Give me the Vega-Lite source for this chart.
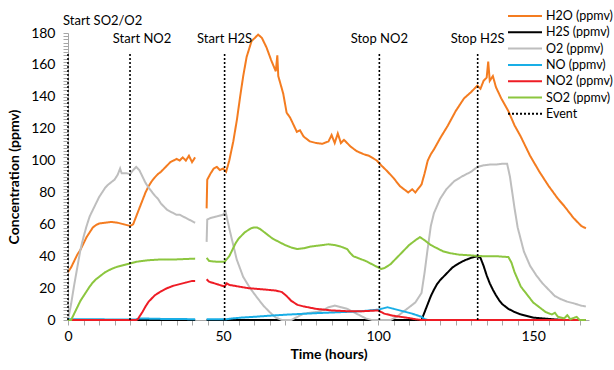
{
  "$schema": "https://vega.github.io/schema/vega-lite/v6.json",
  "width": 521,
  "height": 287,
  "autosize": {"type": "none"},
  "padding": {"left": 68, "top": 33, "right": 25, "bottom": 50},
  "config": {
    "font": "Lato",
    "view": {"stroke": null},
    "axis": {"grid": false, "domainColor": "#A6A6A6", "tickColor": "#A6A6A6", "labelColor": "#000000", "titleColor": "#000000", "labelFontSize": 14, "titleFontSize": 14, "titleFontWeight": "bold"}
  },
  "datasets": {
    "lines": [
      {"s":"H2O (ppmv)","g":"A","t":0,"v":30},{"s":"H2O (ppmv)","g":"A","t":1,"v":33},{"s":"H2O (ppmv)","g":"A","t":2,"v":37},{"s":"H2O (ppmv)","g":"A","t":3,"v":41},{"s":"H2O (ppmv)","g":"A","t":4,"v":44},{"s":"H2O (ppmv)","g":"A","t":5,"v":48},{"s":"H2O (ppmv)","g":"A","t":6,"v":52},{"s":"H2O (ppmv)","g":"A","t":7,"v":55},{"s":"H2O (ppmv)","g":"A","t":8,"v":58},{"s":"H2O (ppmv)","g":"A","t":9,"v":59.5},{"s":"H2O (ppmv)","g":"A","t":10,"v":60.5},{"s":"H2O (ppmv)","g":"A","t":12,"v":61},{"s":"H2O (ppmv)","g":"A","t":14,"v":61.5},{"s":"H2O (ppmv)","g":"A","t":16,"v":61},{"s":"H2O (ppmv)","g":"A","t":18,"v":60},{"s":"H2O (ppmv)","g":"A","t":20,"v":59},{"s":"H2O (ppmv)","g":"A","t":21,"v":60},{"s":"H2O (ppmv)","g":"A","t":22,"v":65},{"s":"H2O (ppmv)","g":"A","t":23,"v":70},{"s":"H2O (ppmv)","g":"A","t":24,"v":75},{"s":"H2O (ppmv)","g":"A","t":25,"v":80},{"s":"H2O (ppmv)","g":"A","t":26,"v":84},{"s":"H2O (ppmv)","g":"A","t":27,"v":87},{"s":"H2O (ppmv)","g":"A","t":28,"v":89.5},{"s":"H2O (ppmv)","g":"A","t":29,"v":91.5},{"s":"H2O (ppmv)","g":"A","t":30,"v":93},{"s":"H2O (ppmv)","g":"A","t":31,"v":95},{"s":"H2O (ppmv)","g":"A","t":32,"v":97},{"s":"H2O (ppmv)","g":"A","t":33,"v":99},{"s":"H2O (ppmv)","g":"A","t":34,"v":100},{"s":"H2O (ppmv)","g":"A","t":35,"v":101},{"s":"H2O (ppmv)","g":"A","t":36,"v":100},{"s":"H2O (ppmv)","g":"A","t":37,"v":102},{"s":"H2O (ppmv)","g":"A","t":38,"v":100},{"s":"H2O (ppmv)","g":"A","t":39,"v":103},{"s":"H2O (ppmv)","g":"A","t":40,"v":99},{"s":"H2O (ppmv)","g":"A","t":41,"v":102},
      {"s":"H2O (ppmv)","g":"B","t":44.7,"v":70},{"s":"H2O (ppmv)","g":"B","t":44.9,"v":88},{"s":"H2O (ppmv)","g":"B","t":46,"v":92},{"s":"H2O (ppmv)","g":"B","t":47,"v":95},{"s":"H2O (ppmv)","g":"B","t":48,"v":96},{"s":"H2O (ppmv)","g":"B","t":49,"v":94},{"s":"H2O (ppmv)","g":"B","t":50,"v":95},{"s":"H2O (ppmv)","g":"B","t":51,"v":93},{"s":"H2O (ppmv)","g":"B","t":52,"v":100},{"s":"H2O (ppmv)","g":"B","t":53.3,"v":112},{"s":"H2O (ppmv)","g":"B","t":54.5,"v":126},{"s":"H2O (ppmv)","g":"B","t":55.5,"v":140},{"s":"H2O (ppmv)","g":"B","t":56.5,"v":153},{"s":"H2O (ppmv)","g":"B","t":57.6,"v":165},{"s":"H2O (ppmv)","g":"B","t":59.2,"v":175},{"s":"H2O (ppmv)","g":"B","t":60.3,"v":177},{"s":"H2O (ppmv)","g":"B","t":61.3,"v":179},{"s":"H2O (ppmv)","g":"B","t":62.5,"v":177},{"s":"H2O (ppmv)","g":"B","t":64,"v":171},{"s":"H2O (ppmv)","g":"B","t":65.5,"v":163},{"s":"H2O (ppmv)","g":"B","t":67,"v":156},{"s":"H2O (ppmv)","g":"B","t":67.5,"v":166},{"s":"H2O (ppmv)","g":"B","t":67.8,"v":153},{"s":"H2O (ppmv)","g":"B","t":69.4,"v":142},{"s":"H2O (ppmv)","g":"B","t":70.5,"v":130},{"s":"H2O (ppmv)","g":"B","t":71.6,"v":127},{"s":"H2O (ppmv)","g":"B","t":73.8,"v":118},{"s":"H2O (ppmv)","g":"B","t":74.8,"v":119},{"s":"H2O (ppmv)","g":"B","t":76,"v":115},{"s":"H2O (ppmv)","g":"B","t":78,"v":112},{"s":"H2O (ppmv)","g":"B","t":80,"v":111},{"s":"H2O (ppmv)","g":"B","t":82,"v":110.5},{"s":"H2O (ppmv)","g":"B","t":84,"v":112},{"s":"H2O (ppmv)","g":"B","t":85,"v":116},{"s":"H2O (ppmv)","g":"B","t":86,"v":111},{"s":"H2O (ppmv)","g":"B","t":87,"v":117},{"s":"H2O (ppmv)","g":"B","t":88,"v":111},{"s":"H2O (ppmv)","g":"B","t":89,"v":113},{"s":"H2O (ppmv)","g":"B","t":91,"v":109},{"s":"H2O (ppmv)","g":"B","t":93,"v":106},{"s":"H2O (ppmv)","g":"B","t":95.3,"v":104},{"s":"H2O (ppmv)","g":"B","t":97,"v":103},{"s":"H2O (ppmv)","g":"B","t":99.6,"v":100},{"s":"H2O (ppmv)","g":"B","t":101,"v":97},{"s":"H2O (ppmv)","g":"B","t":102.8,"v":93.6},{"s":"H2O (ppmv)","g":"B","t":105,"v":89},{"s":"H2O (ppmv)","g":"B","t":107,"v":84},{"s":"H2O (ppmv)","g":"B","t":109.7,"v":80},{"s":"H2O (ppmv)","g":"B","t":111,"v":82},{"s":"H2O (ppmv)","g":"B","t":112,"v":80},{"s":"H2O (ppmv)","g":"B","t":114,"v":85},{"s":"H2O (ppmv)","g":"B","t":115,"v":92},{"s":"H2O (ppmv)","g":"B","t":116,"v":100},{"s":"H2O (ppmv)","g":"B","t":117,"v":104},{"s":"H2O (ppmv)","g":"B","t":118,"v":107},{"s":"H2O (ppmv)","g":"B","t":120,"v":114},{"s":"H2O (ppmv)","g":"B","t":122.5,"v":122},{"s":"H2O (ppmv)","g":"B","t":125,"v":131},{"s":"H2O (ppmv)","g":"B","t":127.7,"v":139},{"s":"H2O (ppmv)","g":"B","t":130,"v":143},{"s":"H2O (ppmv)","g":"B","t":132,"v":147},{"s":"H2O (ppmv)","g":"B","t":133,"v":145},{"s":"H2O (ppmv)","g":"B","t":134,"v":150},{"s":"H2O (ppmv)","g":"B","t":135,"v":152},{"s":"H2O (ppmv)","g":"B","t":135.5,"v":162},{"s":"H2O (ppmv)","g":"B","t":136,"v":150},{"s":"H2O (ppmv)","g":"B","t":137,"v":153},{"s":"H2O (ppmv)","g":"B","t":138,"v":146},{"s":"H2O (ppmv)","g":"B","t":139.7,"v":139},{"s":"H2O (ppmv)","g":"B","t":142,"v":131},{"s":"H2O (ppmv)","g":"B","t":144,"v":122},{"s":"H2O (ppmv)","g":"B","t":146,"v":115},{"s":"H2O (ppmv)","g":"B","t":149,"v":103},{"s":"H2O (ppmv)","g":"B","t":152,"v":93},{"s":"H2O (ppmv)","g":"B","t":155,"v":84},{"s":"H2O (ppmv)","g":"B","t":158,"v":76},{"s":"H2O (ppmv)","g":"B","t":160,"v":71.5},{"s":"H2O (ppmv)","g":"B","t":163,"v":64},{"s":"H2O (ppmv)","g":"B","t":165.5,"v":59},{"s":"H2O (ppmv)","g":"B","t":167,"v":57.5},
      {"s":"H2S (ppmv)","g":"A","t":0,"v":0},{"s":"H2S (ppmv)","g":"A","t":41,"v":0},
      {"s":"H2S (ppmv)","g":"B","t":44.7,"v":0},{"s":"H2S (ppmv)","g":"B","t":114,"v":0},{"s":"H2S (ppmv)","g":"B","t":115,"v":5},{"s":"H2S (ppmv)","g":"B","t":116,"v":10},{"s":"H2S (ppmv)","g":"B","t":117,"v":15},{"s":"H2S (ppmv)","g":"B","t":118,"v":19},{"s":"H2S (ppmv)","g":"B","t":119,"v":22.5},{"s":"H2S (ppmv)","g":"B","t":120,"v":25},{"s":"H2S (ppmv)","g":"B","t":122,"v":29},{"s":"H2S (ppmv)","g":"B","t":124,"v":33},{"s":"H2S (ppmv)","g":"B","t":126,"v":35.5},{"s":"H2S (ppmv)","g":"B","t":128,"v":37.5},{"s":"H2S (ppmv)","g":"B","t":130,"v":39},{"s":"H2S (ppmv)","g":"B","t":132,"v":40},{"s":"H2S (ppmv)","g":"B","t":133,"v":39},{"s":"H2S (ppmv)","g":"B","t":134,"v":34},{"s":"H2S (ppmv)","g":"B","t":135,"v":28},{"s":"H2S (ppmv)","g":"B","t":136,"v":23},{"s":"H2S (ppmv)","g":"B","t":137,"v":19},{"s":"H2S (ppmv)","g":"B","t":138,"v":15.5},{"s":"H2S (ppmv)","g":"B","t":139,"v":12.5},{"s":"H2S (ppmv)","g":"B","t":140,"v":10},{"s":"H2S (ppmv)","g":"B","t":142,"v":7},{"s":"H2S (ppmv)","g":"B","t":144,"v":5},{"s":"H2S (ppmv)","g":"B","t":146,"v":3.5},{"s":"H2S (ppmv)","g":"B","t":148,"v":2.5},{"s":"H2S (ppmv)","g":"B","t":150,"v":1.5},{"s":"H2S (ppmv)","g":"B","t":153,"v":1},{"s":"H2S (ppmv)","g":"B","t":156,"v":0.5},{"s":"H2S (ppmv)","g":"B","t":160,"v":0},{"s":"H2S (ppmv)","g":"B","t":163,"v":0},
      {"s":"O2 (ppmv)","g":"A","t":0,"v":0},{"s":"O2 (ppmv)","g":"A","t":1,"v":10},{"s":"O2 (ppmv)","g":"A","t":2,"v":22},{"s":"O2 (ppmv)","g":"A","t":3,"v":33},{"s":"O2 (ppmv)","g":"A","t":4,"v":44},{"s":"O2 (ppmv)","g":"A","t":5,"v":52},{"s":"O2 (ppmv)","g":"A","t":6,"v":59},{"s":"O2 (ppmv)","g":"A","t":7,"v":65},{"s":"O2 (ppmv)","g":"A","t":8,"v":69},{"s":"O2 (ppmv)","g":"A","t":9,"v":73},{"s":"O2 (ppmv)","g":"A","t":10,"v":77},{"s":"O2 (ppmv)","g":"A","t":11,"v":80},{"s":"O2 (ppmv)","g":"A","t":12,"v":83},{"s":"O2 (ppmv)","g":"A","t":13,"v":85},{"s":"O2 (ppmv)","g":"A","t":14,"v":86.5},{"s":"O2 (ppmv)","g":"A","t":15,"v":88},{"s":"O2 (ppmv)","g":"A","t":16,"v":91},{"s":"O2 (ppmv)","g":"A","t":16.8,"v":95},{"s":"O2 (ppmv)","g":"A","t":17.3,"v":92},{"s":"O2 (ppmv)","g":"A","t":18,"v":92},{"s":"O2 (ppmv)","g":"A","t":19,"v":92},{"s":"O2 (ppmv)","g":"A","t":20,"v":91.5},{"s":"O2 (ppmv)","g":"A","t":21,"v":94},{"s":"O2 (ppmv)","g":"A","t":22,"v":96},{"s":"O2 (ppmv)","g":"A","t":23,"v":94},{"s":"O2 (ppmv)","g":"A","t":24,"v":90},{"s":"O2 (ppmv)","g":"A","t":25,"v":86},{"s":"O2 (ppmv)","g":"A","t":26,"v":83},{"s":"O2 (ppmv)","g":"A","t":27,"v":80.5},{"s":"O2 (ppmv)","g":"A","t":28,"v":78},{"s":"O2 (ppmv)","g":"A","t":29,"v":76},{"s":"O2 (ppmv)","g":"A","t":30,"v":73},{"s":"O2 (ppmv)","g":"A","t":31,"v":71},{"s":"O2 (ppmv)","g":"A","t":32,"v":69},{"s":"O2 (ppmv)","g":"A","t":33,"v":68},{"s":"O2 (ppmv)","g":"A","t":34,"v":67},{"s":"O2 (ppmv)","g":"A","t":35,"v":66},{"s":"O2 (ppmv)","g":"A","t":36,"v":66},{"s":"O2 (ppmv)","g":"A","t":37,"v":65},{"s":"O2 (ppmv)","g":"A","t":38,"v":64},{"s":"O2 (ppmv)","g":"A","t":39,"v":63},{"s":"O2 (ppmv)","g":"A","t":40,"v":62},{"s":"O2 (ppmv)","g":"A","t":41,"v":61},
      {"s":"O2 (ppmv)","g":"B","t":44.7,"v":49},{"s":"O2 (ppmv)","g":"B","t":44.9,"v":63},{"s":"O2 (ppmv)","g":"B","t":46,"v":64},{"s":"O2 (ppmv)","g":"B","t":47,"v":64.5},{"s":"O2 (ppmv)","g":"B","t":48,"v":65},{"s":"O2 (ppmv)","g":"B","t":49,"v":65.5},{"s":"O2 (ppmv)","g":"B","t":50,"v":66},{"s":"O2 (ppmv)","g":"B","t":50.8,"v":68},{"s":"O2 (ppmv)","g":"B","t":52.3,"v":55},{"s":"O2 (ppmv)","g":"B","t":54.4,"v":38},{"s":"O2 (ppmv)","g":"B","t":56.5,"v":27},{"s":"O2 (ppmv)","g":"B","t":58.7,"v":20},{"s":"O2 (ppmv)","g":"B","t":61,"v":14},{"s":"O2 (ppmv)","g":"B","t":63,"v":9},{"s":"O2 (ppmv)","g":"B","t":65,"v":5},{"s":"O2 (ppmv)","g":"B","t":67,"v":1.5},{"s":"O2 (ppmv)","g":"B","t":69,"v":0},{"s":"O2 (ppmv)","g":"B","t":72,"v":0},{"s":"O2 (ppmv)","g":"B","t":74,"v":2},{"s":"O2 (ppmv)","g":"B","t":76,"v":4},{"s":"O2 (ppmv)","g":"B","t":78,"v":4.5},{"s":"O2 (ppmv)","g":"B","t":80,"v":5},{"s":"O2 (ppmv)","g":"B","t":82,"v":6},{"s":"O2 (ppmv)","g":"B","t":84,"v":8},{"s":"O2 (ppmv)","g":"B","t":86,"v":9},{"s":"O2 (ppmv)","g":"B","t":88,"v":8},{"s":"O2 (ppmv)","g":"B","t":90,"v":7},{"s":"O2 (ppmv)","g":"B","t":92,"v":5},{"s":"O2 (ppmv)","g":"B","t":94,"v":3},{"s":"O2 (ppmv)","g":"B","t":96,"v":1},{"s":"O2 (ppmv)","g":"B","t":98,"v":0},{"s":"O2 (ppmv)","g":"B","t":104,"v":0},{"s":"O2 (ppmv)","g":"B","t":106,"v":2},{"s":"O2 (ppmv)","g":"B","t":108,"v":5},{"s":"O2 (ppmv)","g":"B","t":110,"v":8},{"s":"O2 (ppmv)","g":"B","t":112,"v":11},{"s":"O2 (ppmv)","g":"B","t":113,"v":14},{"s":"O2 (ppmv)","g":"B","t":114,"v":17},{"s":"O2 (ppmv)","g":"B","t":115,"v":30},{"s":"O2 (ppmv)","g":"B","t":116,"v":45},{"s":"O2 (ppmv)","g":"B","t":117,"v":59},{"s":"O2 (ppmv)","g":"B","t":118,"v":67},{"s":"O2 (ppmv)","g":"B","t":120,"v":76},{"s":"O2 (ppmv)","g":"B","t":122,"v":82},{"s":"O2 (ppmv)","g":"B","t":124.5,"v":87},{"s":"O2 (ppmv)","g":"B","t":127,"v":90},{"s":"O2 (ppmv)","g":"B","t":130,"v":93},{"s":"O2 (ppmv)","g":"B","t":132,"v":96},{"s":"O2 (ppmv)","g":"B","t":134,"v":97},{"s":"O2 (ppmv)","g":"B","t":136,"v":97.5},{"s":"O2 (ppmv)","g":"B","t":138,"v":97.5},{"s":"O2 (ppmv)","g":"B","t":140,"v":98},{"s":"O2 (ppmv)","g":"B","t":141.6,"v":98},{"s":"O2 (ppmv)","g":"B","t":142.5,"v":90},{"s":"O2 (ppmv)","g":"B","t":144,"v":70},{"s":"O2 (ppmv)","g":"B","t":145,"v":58},{"s":"O2 (ppmv)","g":"B","t":147,"v":43},{"s":"O2 (ppmv)","g":"B","t":149,"v":34},{"s":"O2 (ppmv)","g":"B","t":151,"v":28},{"s":"O2 (ppmv)","g":"B","t":153,"v":23},{"s":"O2 (ppmv)","g":"B","t":155,"v":19},{"s":"O2 (ppmv)","g":"B","t":157,"v":15},{"s":"O2 (ppmv)","g":"B","t":159,"v":13},{"s":"O2 (ppmv)","g":"B","t":161,"v":11.5},{"s":"O2 (ppmv)","g":"B","t":163,"v":10.5},{"s":"O2 (ppmv)","g":"B","t":165.5,"v":9},{"s":"O2 (ppmv)","g":"B","t":167,"v":8.5},
      {"s":"NO (ppmv)","g":"A","t":0,"v":0.5},{"s":"NO (ppmv)","g":"A","t":22,"v":0.3},{"s":"NO (ppmv)","g":"A","t":23,"v":1},{"s":"NO (ppmv)","g":"A","t":30,"v":0.7},{"s":"NO (ppmv)","g":"A","t":41,"v":0.5},
      {"s":"NO (ppmv)","g":"B","t":44.7,"v":0.5},{"s":"NO (ppmv)","g":"B","t":51,"v":0.5},{"s":"NO (ppmv)","g":"B","t":53,"v":1},{"s":"NO (ppmv)","g":"B","t":56,"v":1.5},{"s":"NO (ppmv)","g":"B","t":60,"v":2},{"s":"NO (ppmv)","g":"B","t":65,"v":2.7},{"s":"NO (ppmv)","g":"B","t":70,"v":3.3},{"s":"NO (ppmv)","g":"B","t":75,"v":3.8},{"s":"NO (ppmv)","g":"B","t":80,"v":4.3},{"s":"NO (ppmv)","g":"B","t":85,"v":4.7},{"s":"NO (ppmv)","g":"B","t":90,"v":5.1},{"s":"NO (ppmv)","g":"B","t":95,"v":5.6},{"s":"NO (ppmv)","g":"B","t":100,"v":6.5},{"s":"NO (ppmv)","g":"B","t":101,"v":7},{"s":"NO (ppmv)","g":"B","t":103,"v":8},{"s":"NO (ppmv)","g":"B","t":105,"v":7},{"s":"NO (ppmv)","g":"B","t":108,"v":5.5},{"s":"NO (ppmv)","g":"B","t":111,"v":4},{"s":"NO (ppmv)","g":"B","t":114,"v":2},{"s":"NO (ppmv)","g":"B","t":115,"v":0.5},{"s":"NO (ppmv)","g":"B","t":116,"v":0},{"s":"NO (ppmv)","g":"B","t":167,"v":0},
      {"s":"NO2 (ppmv)","g":"A","t":0,"v":0},{"s":"NO2 (ppmv)","g":"A","t":22,"v":0},{"s":"NO2 (ppmv)","g":"A","t":22.5,"v":0.5},{"s":"NO2 (ppmv)","g":"A","t":23,"v":2},{"s":"NO2 (ppmv)","g":"A","t":24,"v":5},{"s":"NO2 (ppmv)","g":"A","t":25,"v":8.5},{"s":"NO2 (ppmv)","g":"A","t":26,"v":11.5},{"s":"NO2 (ppmv)","g":"A","t":27,"v":13.5},{"s":"NO2 (ppmv)","g":"A","t":28,"v":15.5},{"s":"NO2 (ppmv)","g":"A","t":30,"v":18},{"s":"NO2 (ppmv)","g":"A","t":32,"v":20},{"s":"NO2 (ppmv)","g":"A","t":34,"v":21.5},{"s":"NO2 (ppmv)","g":"A","t":36,"v":22.5},{"s":"NO2 (ppmv)","g":"A","t":38,"v":23.5},{"s":"NO2 (ppmv)","g":"A","t":40,"v":24.5},{"s":"NO2 (ppmv)","g":"A","t":41,"v":24.5},
      {"s":"NO2 (ppmv)","g":"B","t":44.7,"v":25.5},{"s":"NO2 (ppmv)","g":"B","t":45.5,"v":24},{"s":"NO2 (ppmv)","g":"B","t":48,"v":22.5},{"s":"NO2 (ppmv)","g":"B","t":50.5,"v":21},{"s":"NO2 (ppmv)","g":"B","t":51.2,"v":23},{"s":"NO2 (ppmv)","g":"B","t":52,"v":22},{"s":"NO2 (ppmv)","g":"B","t":55,"v":21},{"s":"NO2 (ppmv)","g":"B","t":58,"v":20},{"s":"NO2 (ppmv)","g":"B","t":61,"v":19.5},{"s":"NO2 (ppmv)","g":"B","t":64,"v":19},{"s":"NO2 (ppmv)","g":"B","t":67,"v":18.5},{"s":"NO2 (ppmv)","g":"B","t":69,"v":17.5},{"s":"NO2 (ppmv)","g":"B","t":70.5,"v":15},{"s":"NO2 (ppmv)","g":"B","t":72,"v":12},{"s":"NO2 (ppmv)","g":"B","t":74,"v":9.5},{"s":"NO2 (ppmv)","g":"B","t":76,"v":8.5},{"s":"NO2 (ppmv)","g":"B","t":80,"v":7},{"s":"NO2 (ppmv)","g":"B","t":85,"v":6},{"s":"NO2 (ppmv)","g":"B","t":90,"v":5.5},{"s":"NO2 (ppmv)","g":"B","t":95,"v":5.5},{"s":"NO2 (ppmv)","g":"B","t":100,"v":6},{"s":"NO2 (ppmv)","g":"B","t":101,"v":5},{"s":"NO2 (ppmv)","g":"B","t":102,"v":4},{"s":"NO2 (ppmv)","g":"B","t":104,"v":3},{"s":"NO2 (ppmv)","g":"B","t":106,"v":2.3},{"s":"NO2 (ppmv)","g":"B","t":108,"v":1.8},{"s":"NO2 (ppmv)","g":"B","t":110,"v":1.2},{"s":"NO2 (ppmv)","g":"B","t":112,"v":0.5},{"s":"NO2 (ppmv)","g":"B","t":114,"v":0},{"s":"NO2 (ppmv)","g":"B","t":167,"v":0},
      {"s":"SO2 (ppmv)","g":"A","t":0,"v":0},{"s":"SO2 (ppmv)","g":"A","t":1,"v":0},{"s":"SO2 (ppmv)","g":"A","t":2,"v":4},{"s":"SO2 (ppmv)","g":"A","t":3,"v":8},{"s":"SO2 (ppmv)","g":"A","t":4,"v":12},{"s":"SO2 (ppmv)","g":"A","t":5,"v":15},{"s":"SO2 (ppmv)","g":"A","t":6,"v":18},{"s":"SO2 (ppmv)","g":"A","t":7,"v":21},{"s":"SO2 (ppmv)","g":"A","t":8,"v":23.5},{"s":"SO2 (ppmv)","g":"A","t":9,"v":25.5},{"s":"SO2 (ppmv)","g":"A","t":10,"v":27},{"s":"SO2 (ppmv)","g":"A","t":12,"v":30},{"s":"SO2 (ppmv)","g":"A","t":14,"v":32},{"s":"SO2 (ppmv)","g":"A","t":16,"v":33.5},{"s":"SO2 (ppmv)","g":"A","t":18,"v":34.5},{"s":"SO2 (ppmv)","g":"A","t":20,"v":35.5},{"s":"SO2 (ppmv)","g":"A","t":22,"v":36.5},{"s":"SO2 (ppmv)","g":"A","t":24,"v":37},{"s":"SO2 (ppmv)","g":"A","t":26,"v":37.5},{"s":"SO2 (ppmv)","g":"A","t":30,"v":38},{"s":"SO2 (ppmv)","g":"A","t":35,"v":38},{"s":"SO2 (ppmv)","g":"A","t":41,"v":38.5},
      {"s":"SO2 (ppmv)","g":"B","t":44.7,"v":39},{"s":"SO2 (ppmv)","g":"B","t":45.5,"v":37},{"s":"SO2 (ppmv)","g":"B","t":48,"v":36.5},{"s":"SO2 (ppmv)","g":"B","t":50.5,"v":36.5},{"s":"SO2 (ppmv)","g":"B","t":52,"v":40},{"s":"SO2 (ppmv)","g":"B","t":53,"v":44},{"s":"SO2 (ppmv)","g":"B","t":54,"v":48},{"s":"SO2 (ppmv)","g":"B","t":55,"v":51},{"s":"SO2 (ppmv)","g":"B","t":57,"v":55},{"s":"SO2 (ppmv)","g":"B","t":59,"v":57.5},{"s":"SO2 (ppmv)","g":"B","t":60,"v":58},{"s":"SO2 (ppmv)","g":"B","t":61,"v":58},{"s":"SO2 (ppmv)","g":"B","t":62,"v":57},{"s":"SO2 (ppmv)","g":"B","t":64,"v":54},{"s":"SO2 (ppmv)","g":"B","t":66,"v":51},{"s":"SO2 (ppmv)","g":"B","t":68,"v":49},{"s":"SO2 (ppmv)","g":"B","t":70,"v":47},{"s":"SO2 (ppmv)","g":"B","t":72,"v":45.5},{"s":"SO2 (ppmv)","g":"B","t":74,"v":44.5},{"s":"SO2 (ppmv)","g":"B","t":76,"v":45},{"s":"SO2 (ppmv)","g":"B","t":78,"v":46},{"s":"SO2 (ppmv)","g":"B","t":80,"v":46.5},{"s":"SO2 (ppmv)","g":"B","t":84,"v":47.5},{"s":"SO2 (ppmv)","g":"B","t":86,"v":47},{"s":"SO2 (ppmv)","g":"B","t":88,"v":46},{"s":"SO2 (ppmv)","g":"B","t":90,"v":44.5},{"s":"SO2 (ppmv)","g":"B","t":91,"v":42},{"s":"SO2 (ppmv)","g":"B","t":92,"v":40},{"s":"SO2 (ppmv)","g":"B","t":94,"v":38.5},{"s":"SO2 (ppmv)","g":"B","t":96,"v":37},{"s":"SO2 (ppmv)","g":"B","t":98,"v":35},{"s":"SO2 (ppmv)","g":"B","t":100,"v":33},{"s":"SO2 (ppmv)","g":"B","t":101,"v":32},{"s":"SO2 (ppmv)","g":"B","t":102,"v":32.5},{"s":"SO2 (ppmv)","g":"B","t":104,"v":35},{"s":"SO2 (ppmv)","g":"B","t":106,"v":39},{"s":"SO2 (ppmv)","g":"B","t":108,"v":43},{"s":"SO2 (ppmv)","g":"B","t":110,"v":47},{"s":"SO2 (ppmv)","g":"B","t":112,"v":50},{"s":"SO2 (ppmv)","g":"B","t":113.5,"v":52},{"s":"SO2 (ppmv)","g":"B","t":115,"v":50},{"s":"SO2 (ppmv)","g":"B","t":117,"v":47},{"s":"SO2 (ppmv)","g":"B","t":119,"v":45},{"s":"SO2 (ppmv)","g":"B","t":121,"v":43},{"s":"SO2 (ppmv)","g":"B","t":123,"v":42},{"s":"SO2 (ppmv)","g":"B","t":126,"v":41},{"s":"SO2 (ppmv)","g":"B","t":130,"v":40.5},{"s":"SO2 (ppmv)","g":"B","t":134,"v":40},{"s":"SO2 (ppmv)","g":"B","t":138,"v":40},{"s":"SO2 (ppmv)","g":"B","t":142,"v":39.5},{"s":"SO2 (ppmv)","g":"B","t":143,"v":36},{"s":"SO2 (ppmv)","g":"B","t":144,"v":30},{"s":"SO2 (ppmv)","g":"B","t":146,"v":21},{"s":"SO2 (ppmv)","g":"B","t":148,"v":16},{"s":"SO2 (ppmv)","g":"B","t":150,"v":11},{"s":"SO2 (ppmv)","g":"B","t":152,"v":8},{"s":"SO2 (ppmv)","g":"B","t":154,"v":5},{"s":"SO2 (ppmv)","g":"B","t":156,"v":3.5},{"s":"SO2 (ppmv)","g":"B","t":157,"v":4.5},{"s":"SO2 (ppmv)","g":"B","t":158,"v":2},{"s":"SO2 (ppmv)","g":"B","t":160,"v":1},{"s":"SO2 (ppmv)","g":"B","t":161,"v":3},{"s":"SO2 (ppmv)","g":"B","t":162,"v":0.5},{"s":"SO2 (ppmv)","g":"B","t":164,"v":2},{"s":"SO2 (ppmv)","g":"B","t":165,"v":0},{"s":"SO2 (ppmv)","g":"B","t":167,"v":0}
    ],
    "events": [
      {"s":"Event","t":0,"label":"Start SO2/O2"},
      {"s":"Event","t":20,"label":"Start NO2"},
      {"s":"Event","t":50.5,"label":"Start H2S"},
      {"s":"Event","t":100.4,"label":"Stop NO2"},
      {"s":"Event","t":132.1,"label":"Stop H2S"}
    ]
  },
  "layer": [
    {
      "data": {"name": "lines"},
      "mark": {"type": "line", "strokeWidth": 2},
      "encoding": {
        "x": {"field": "t", "type": "quantitative", "scale": {"domain": [0, 168], "nice": false},
          "axis": {"title": "Time (hours)", "tickCount": 34, "labelExpr": "datum.value % 50 === 0 ? datum.label : ''", "labelFlush": false, "labelOverlap": false, "tickSize": 5, "labelPadding": 4, "titlePadding": 4}},
        "y": {"field": "v", "type": "quantitative", "scale": {"domain": [0, 180], "nice": false},
          "axis": {"title": "Concentration (ppmv)", "tickCount": 90, "labelExpr": "datum.value % 20 === 0 ? datum.label : ''", "labelOverlap": false, "tickSize": 5, "labelPadding": 8, "titlePadding": 9}},
        "color": {"field": "s", "type": "nominal",
          "scale": {"domain": ["H2O (ppmv)", "H2S (ppmv)", "O2 (ppmv)", "NO (ppmv)", "NO2 (ppmv)", "SO2 (ppmv)", "Event"],
                    "range": ["#F47C20", "#000000", "#BEBEBE", "#19AEE6", "#EE1C25", "#8CC63F", "#000000"]},
          "legend": {"orient": "none", "legendX": 439, "legendY": -25, "title": null, "symbolType": "stroke", "symbolSize": 1156, "symbolStrokeWidth": 2, "labelFontSize": 12.5, "clipHeight": 16, "rowPadding": 0.3, "labelOffset": 3, "padding": 0, "labelLimit": 200}},
        "strokeDash": {"field": "s", "type": "nominal",
          "scale": {"domain": ["H2O (ppmv)", "H2S (ppmv)", "O2 (ppmv)", "NO (ppmv)", "NO2 (ppmv)", "SO2 (ppmv)", "Event"],
                    "range": [[1, 0], [1, 0], [1, 0], [1, 0], [1, 0], [1, 0], [2, 2]]}},
        "detail": {"field": "g"}
      }
    },
    {
      "data": {"name": "events"},
      "mark": {"type": "rule", "strokeWidth": 1.6},
      "encoding": {
        "x": {"field": "t", "type": "quantitative"},
        "y": {"datum": 0},
        "y2": {"datum": 168},
        "color": {"field": "s", "type": "nominal"},
        "strokeDash": {"field": "s", "type": "nominal"}
      }
    },
    {
      "data": {"name": "events"},
      "transform": [{"filter": "datum.label === 'Start H2S' || datum.label === 'Stop NO2' || datum.label === 'Stop H2S'"}],
      "mark": {"type": "text", "fontSize": 13, "align": "center", "baseline": "middle", "color": "#000000"},
      "encoding": {"x": {"field": "t", "type": "quantitative"}, "y": {"datum": 176}, "text": {"field": "label"}}
    },
    {
      "data": {"name": "events"},
      "transform": [{"filter": "datum.label === 'Start NO2'"}],
      "mark": {"type": "text", "fontSize": 13, "align": "center", "baseline": "middle", "dx": 12, "color": "#000000"},
      "encoding": {"x": {"field": "t", "type": "quantitative"}, "y": {"datum": 176}, "text": {"field": "label"}}
    },
    {
      "data": {"name": "events"},
      "transform": [{"filter": "datum.label === 'Start SO2/O2'"}],
      "mark": {"type": "text", "fontSize": 13, "align": "left", "baseline": "middle", "dx": -5, "color": "#000000"},
      "encoding": {"x": {"field": "t", "type": "quantitative"}, "y": {"datum": 187.5}, "text": {"field": "label"}}
    }
  ]
}
